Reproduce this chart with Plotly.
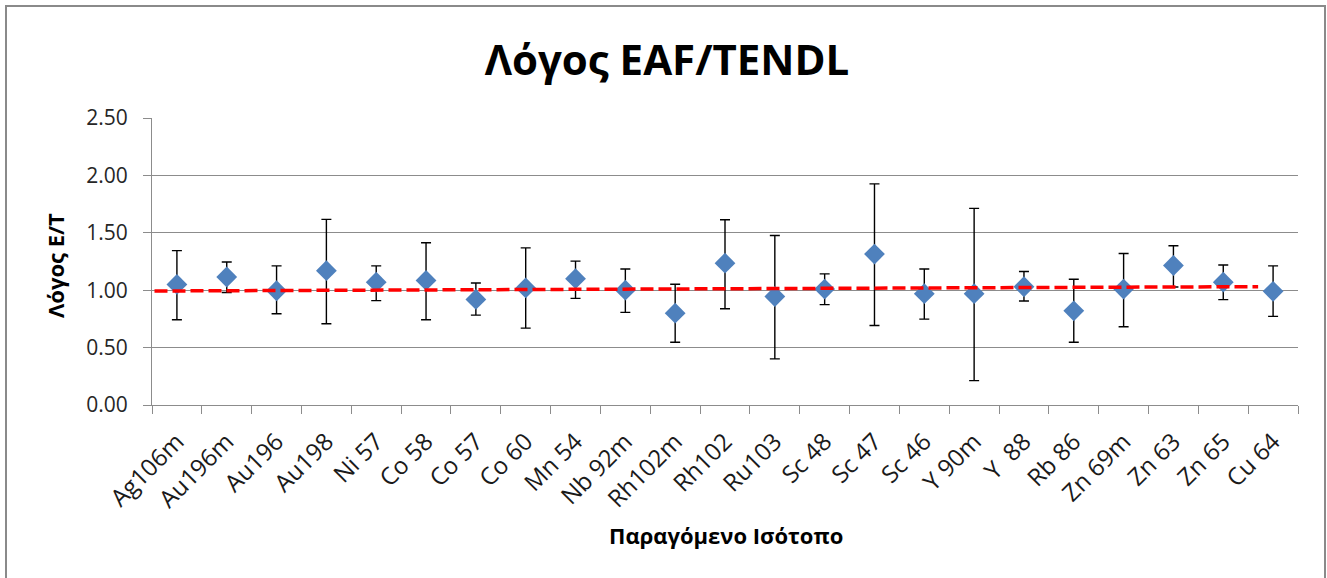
import plotly.graph_objects as go

# ---- data ----
isotopes = ["Ag106m", "Au196m", "Au196", "Au198", "Ni 57", "Co 58", "Co 57", "Co 60",
            "Mn 54", "Nb 92m", "Rh102m", "Rh102", "Ru103", "Sc 48", "Sc 47", "Sc 46",
            "Y 90m", "Y  88", "Rb 86", "Zn 69m", "Zn 63", "Zn 65", "Cu 64"]
ratio = [1.05, 1.115, 0.995, 1.17, 1.07, 1.085, 0.92, 1.02,
         1.10, 1.00, 0.80, 1.235, 0.945, 1.01, 1.315, 0.97,
         0.97, 1.03, 0.82, 1.01, 1.215, 1.07, 0.99]
upper = [1.345, 1.245, 1.212, 1.617, 1.212, 1.413, 1.063, 1.369,
         1.253, 1.185, 1.052, 1.614, 1.477, 1.142, 1.926, 1.185,
         1.713, 1.163, 1.095, 1.320, 1.387, 1.220, 1.212]
lower = [0.742, 0.980, 0.795, 0.708, 0.909, 0.742, 0.783, 0.670,
         0.929, 0.807, 0.547, 0.839, 0.402, 0.874, 0.693, 0.748,
         0.212, 0.906, 0.547, 0.682, 1.028, 0.918, 0.772]
trend_start = 0.993
trend_end = 1.031
y_ticks = [0.0, 0.5, 1.0, 1.5, 2.0, 2.5]

n = len(isotopes)
xs = list(range(n))
err_plus = [u - r for u, r in zip(upper, ratio)]
err_minus = [r - l for r, l in zip(ratio, lower)]

FONT = "Open Sans"
GRID = "#8C8C8C"

fig = go.Figure()
fig.add_trace(go.Scatter(
    x=xs, y=ratio, mode="markers",
    marker=dict(symbol="diamond", size=16, color="#4F81BD", line=dict(width=0)),
    error_y=dict(type="data", symmetric=False, array=err_plus, arrayminus=err_minus,
                 color="#000000", thickness=1.4, width=5),
    showlegend=False, hoverinfo="x+y"))
fig.add_trace(go.Scatter(
    x=[-0.45, n - 1.3], y=[trend_start, trend_end], mode="lines",
    line=dict(color="#FF0000", width=3.5, dash="13px,5px"),
    showlegend=False, hoverinfo="skip"))

L, R, T, B = 152, 29, 118, 173
W, H = 1327, 578
pw, ph = W - L - R, H - T - B

def px_x(p):
    return (p - L) / pw

def px_y(p):
    return (H - B - p) / ph

fig.update_layout(
    width=W, height=H,
    margin=dict(l=L, r=R, t=T, b=B, pad=0),
    paper_bgcolor="white", plot_bgcolor="white",
    font=dict(family=FONT, color="#000000"),
    title=dict(text="<b>Λόγος EAF/TENDL</b>", x=px_x(667), xref="paper", xanchor="center",
               y=1 - 60 / H, yanchor="middle", font=dict(size=42, family=FONT, color="#000000")),
    xaxis=dict(range=[-0.5, n - 0.5], tickmode="array", tickvals=xs, ticktext=isotopes,
               tickangle=-45, ticks="", showgrid=False, zeroline=False,
               showline=True, linecolor=GRID, linewidth=1,
               tickfont=dict(size=24, family=FONT, color="#1a1a1a"),
               ticklabelstandoff=12,
               minor=dict(tickmode="array", tickvals=[i - 0.5 for i in range(n + 1)],
                          ticks="outside", ticklen=8, tickcolor=GRID, tickwidth=1, showgrid=False),
               fixedrange=True),
    yaxis=dict(range=[0, 2.5], tickmode="array", tickvals=y_ticks,
               ticktext=[f"{v:.2f}" for v in y_ticks],
               ticks="outside", ticklen=8, tickcolor=GRID, tickwidth=1,
               showgrid=True, gridcolor=GRID, gridwidth=1, zeroline=False,
               showline=True, linecolor=GRID, linewidth=1,
               tickfont=dict(size=21, family=FONT, color="#262626"),
               ticklabelstandoff=11, fixedrange=True),
    annotations=[
        dict(text="<b>Παραγόμενο Ισότοπο</b>", xref="paper", yref="paper",
             x=px_x(726), y=px_y(535), xanchor="center", yanchor="middle", showarrow=False,
             font=dict(size=22, family=FONT, color="#000000")),
        dict(text="<b>Λόγος E/T</b>", xref="paper", yref="paper", textangle=-90,
             x=px_x(55), y=px_y(266), xanchor="center", yanchor="middle", showarrow=False,
             font=dict(size=22, family=FONT, color="#000000")),
    ],
    shapes=[dict(type="rect", xref="paper", yref="paper",
                 x0=px_x(6), x1=px_x(1325), y0=px_y(590), y1=px_y(6),
                 line=dict(color="#8A8A8A", width=2), fillcolor="rgba(0,0,0,0)", layer="below")],
)

fig.write_html("out.html")
